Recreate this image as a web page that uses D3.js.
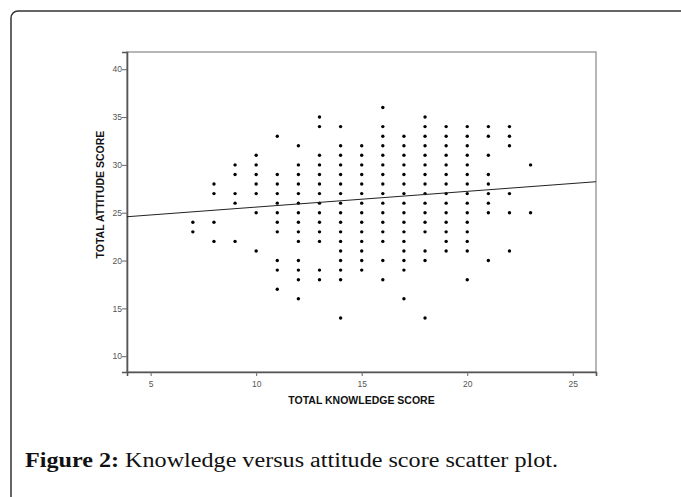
<!DOCTYPE html>
<html>
<head>
<meta charset="utf-8">
<script src="https://cdn.jsdelivr.net/npm/d3@7"></script>
<style>
  body { margin: 0; background: #fff; }
  .tick text { font-family: "Liberation Sans", Arial, sans-serif; font-size: 8.5px; fill: #555; }
  .axis-label { font-family: "Liberation Sans", Arial, sans-serif; font-weight: bold; font-size: 10.5px; fill: #111; }
  .caption { font-family: "Liberation Serif", "DejaVu Serif", serif; font-size: 20.5px; fill: #111; }
</style>
</head>
<body>
<div id="scatter"></div>
<script>
// knowledge score (x) and the attitude scores seen at each of them (y)
var knowledgeScores = [7, 8, 9, 10, 11, 12, 13, 14, 15, 16, 17, 18, 19, 20, 21, 22, 23];
var attitudeScores = [
  [23, 24],
  [22, 24, 27, 28],
  [22, 26, 27, 29, 30],
  [21, 25, 27, 28, 29, 30, 31],
  [17, 19, 20, 23, 24, 25, 26, 27, 28, 29, 33],
  [16, 18, 19, 20, 22, 23, 24, 25, 26, 27, 28, 29, 30, 32],
  [18, 19, 22, 23, 24, 25, 26, 27, 28, 29, 30, 31, 34, 35],
  [14, 18, 19, 20, 21, 22, 23, 24, 25, 26, 27, 28, 29, 30, 31, 32, 34],
  [19, 20, 21, 22, 23, 24, 25, 26, 27, 28, 29, 30, 31, 32],
  [18, 20, 22, 23, 24, 25, 26, 27, 28, 29, 30, 31, 32, 33, 34, 36],
  [16, 19, 20, 21, 22, 23, 24, 25, 26, 27, 28, 29, 30, 31, 32, 33],
  [14, 20, 21, 23, 24, 25, 26, 27, 28, 29, 30, 31, 32, 33, 34, 35],
  [21, 22, 23, 24, 25, 26, 27, 28, 29, 30, 31, 32, 33, 34],
  [18, 21, 22, 23, 24, 25, 26, 27, 28, 29, 30, 31, 32, 33, 34],
  [20, 25, 26, 27, 28, 29, 31, 33, 34],
  [21, 25, 27, 32, 33, 34],
  [25, 30]
];
var xTicks = [5, 10, 15, 20, 25];
var yTicks = [10, 15, 20, 25, 30, 35, 40];
// fit line, read at the two ends of the plot
var fitX = [3.88, 26.1];
var fitY = [24.58, 28.24];

var svgWidth = 681;
var svgHeight = 497;

var margin = { top: 52, right: 85, bottom: 125, left: 127 };
var width = svgWidth - margin.left - margin.right;
var height = svgHeight - margin.top - margin.bottom;

var svg = d3.select("#scatter")
  .append("svg")
  .attr("width", svgWidth)
  .attr("height", svgHeight);

// outer figure box with rounded corner (runs off right and bottom)
svg.append("rect")
  .attr("x", 11)
  .attr("y", 11)
  .attr("width", 700)
  .attr("height", 520)
  .attr("rx", 7)
  .attr("fill", "none")
  .attr("stroke", "#333")
  .attr("stroke-width", 1.5);

var chartGroup = svg.append("g")
  .attr("transform", `translate(${margin.left}, ${margin.top})`);

var xLinearScale = d3.scaleLinear().domain([3.88, 26.1]).range([0, width]);
var yLinearScale = d3.scaleLinear().domain([8.35, 41.8]).range([height, 0]);

// plot frame
chartGroup.append("rect")
  .attr("width", width)
  .attr("height", height)
  .attr("fill", "none")
  .attr("stroke", "#888")
  .attr("stroke-width", 1.2);

var bottomAxis = d3.axisBottom(xLinearScale).tickValues(xTicks).tickSizeOuter(0).tickSize(4);
var leftAxis = d3.axisLeft(yLinearScale).tickValues(yTicks).tickSizeOuter(0).tickSize(5);

var xAxis = chartGroup.append("g")
  .attr("transform", `translate(0, ${height})`)
  .call(bottomAxis);
var yAxis = chartGroup.append("g").call(leftAxis);

[xAxis, yAxis].forEach(function(ax) {
  ax.select(".domain").attr("stroke", "#555").attr("stroke-width", 1.6);
  ax.selectAll(".tick line").attr("stroke", "#666");
});
xAxis.selectAll(".tick text").attr("dy", "0.9em");
yAxis.selectAll(".tick text").attr("x", -5);

// flatten into points
var points = [];
knowledgeScores.forEach(function(k, i) {
  attitudeScores[i].forEach(function(a) {
    points.push({ knowledge: k, attitude: a });
  });
});

chartGroup.selectAll("circle")
  .data(points)
  .enter()
  .append("circle")
  .attr("cx", d => xLinearScale(d.knowledge))
  .attr("cy", d => yLinearScale(d.attitude))
  .attr("r", 1.7)
  .attr("fill", "#000");

chartGroup.append("line")
  .attr("x1", xLinearScale(fitX[0]))
  .attr("y1", yLinearScale(fitY[0]))
  .attr("x2", xLinearScale(fitX[1]))
  .attr("y2", yLinearScale(fitY[1]))
  .attr("stroke", "#222")
  .attr("stroke-width", 1);

// axis titles
chartGroup.append("text")
  .attr("class", "axis-label")
  .attr("x", width / 2)
  .attr("y", height + 32)
  .attr("text-anchor", "middle")
  .text("TOTAL KNOWLEDGE SCORE");

chartGroup.append("text")
  .attr("class", "axis-label")
  .attr("transform", "rotate(-90)")
  .attr("x", -(yLinearScale(26.9)))
  .attr("y", -23)
  .attr("text-anchor", "middle")
  .text("TOTAL ATTITUDE SCORE");

// caption
var caption = svg.append("text")
  .attr("class", "caption")
  .attr("x", 25)
  .attr("y", 467)
  .attr("textLength", 533)
  .attr("lengthAdjust", "spacingAndGlyphs");
caption.append("tspan").attr("font-weight", "bold").text("Figure 2:");
caption.append("tspan").text(" Knowledge versus attitude score scatter plot.");
</script>
</body>
</html>
